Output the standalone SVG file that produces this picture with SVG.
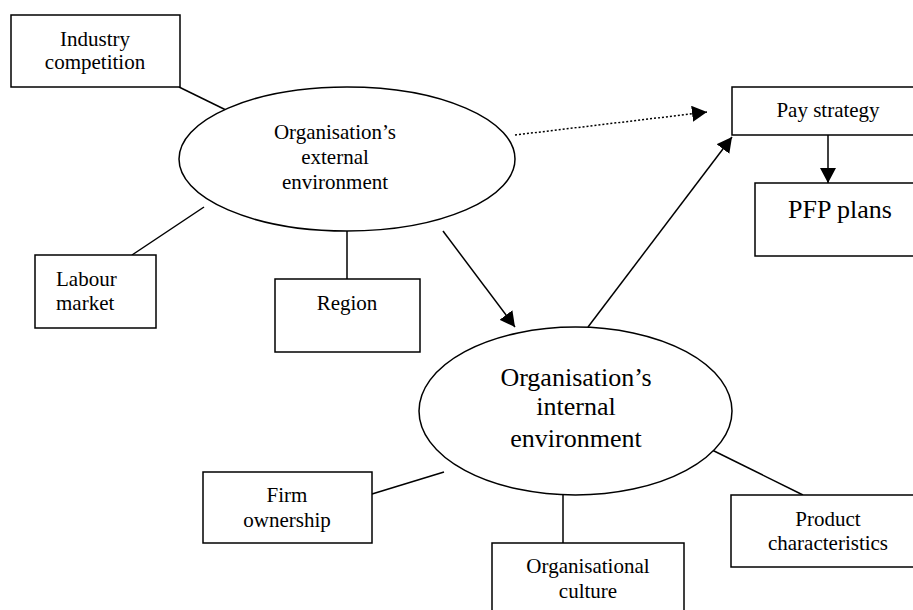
<svg xmlns="http://www.w3.org/2000/svg" width="913" height="610" viewBox="0 0 913 610">
<style>
  .box { fill: #fff; stroke: #000; stroke-width: 1.5; }
  .ell { fill: #fff; stroke: #000; stroke-width: 1.5; }
  .ln { stroke: #000; stroke-width: 1.5; fill: none; }
  .dot { stroke: #000; stroke-width: 1.5; fill: none; stroke-dasharray: 2 2; }
  text { font-family: "Liberation Serif", "Times New Roman", serif; fill: #000; }
  .t21 { font-size: 21px; }
  .t26 { font-size: 26px; }
  .c { text-anchor: middle; }
</style>
<defs>
  <marker id="arr" markerUnits="userSpaceOnUse" viewBox="0 0 15 16" markerWidth="15" markerHeight="16" refX="15" refY="8" orient="auto">
    <path d="M0,0 L15,8 L0,16 Z" fill="#000"/>
  </marker>
</defs>
<rect width="913" height="610" fill="#fff"/>

<g id="connectors">
  <line class="ln" x1="179" y1="87" x2="228" y2="111"/>
  <line class="ln" x1="204" y1="207" x2="132" y2="255"/>
  <line class="ln" x1="347" y1="231" x2="347" y2="279"/>
  <line class="dot" x1="515" y1="135" x2="707" y2="112" marker-end="url(#arr)"/>
  <line class="ln" x1="443" y1="231" x2="515" y2="327" marker-end="url(#arr)"/>
  <line class="ln" x1="588" y1="327" x2="732" y2="137" marker-end="url(#arr)"/>
  <line class="ln" x1="828" y1="135" x2="828" y2="183" marker-end="url(#arr)"/>
  <line class="ln" x1="444" y1="472" x2="372" y2="494"/>
  <line class="ln" x1="563" y1="495" x2="563" y2="543"/>
  <line class="ln" x1="708" y1="448" x2="803" y2="495"/>
</g>

<g id="industry">
  <rect class="box" x="11" y="15" width="169" height="72"/>
  <text class="t21 c" x="95" y="46">Industry</text>
  <text class="t21 c" x="95" y="69">competition</text>
</g>

<g id="external">
  <ellipse class="ell" cx="347" cy="159" rx="168" ry="72"/>
  <text class="t21 c" x="335" y="139">Organisation’s</text>
  <text class="t21 c" x="335" y="164">external</text>
  <text class="t21 c" x="335" y="189">environment</text>
</g>

<g id="labour">
  <rect class="box" x="35" y="255" width="121" height="73"/>
  <text class="t21" x="56" y="286">Labour</text>
  <text class="t21" x="56" y="310">market</text>
</g>

<g id="region">
  <rect class="box" x="275" y="279" width="145" height="73"/>
  <text class="t21 c" x="347" y="310">Region</text>
</g>

<g id="pay">
  <rect class="box" x="732" y="87" width="190" height="48"/>
  <text class="t21 c" x="828" y="117">Pay strategy</text>
</g>

<g id="pfp">
  <rect class="box" x="755" y="183" width="170" height="73"/>
  <text class="t26 c" x="840" y="218">PFP plans</text>
</g>

<g id="internal">
  <ellipse class="ell" cx="575.5" cy="411" rx="156.5" ry="84"/>
  <text class="t26 c" x="576" y="386">Organisation’s</text>
  <text class="t26 c" x="576" y="415">internal</text>
  <text class="t26 c" x="576" y="447">environment</text>
</g>

<g id="firm">
  <rect class="box" x="203" y="472" width="169" height="71"/>
  <text class="t21 c" x="287" y="502">Firm</text>
  <text class="t21 c" x="287" y="527">ownership</text>
</g>

<g id="culture">
  <rect class="box" x="492" y="543" width="192" height="80"/>
  <text class="t21 c" x="588" y="573">Organisational</text>
  <text class="t21 c" x="588" y="598">culture</text>
</g>

<g id="product">
  <rect class="box" x="731" y="495" width="190" height="72"/>
  <text class="t21 c" x="828" y="526">Product</text>
  <text class="t21 c" x="828" y="550">characteristics</text>
</g>
</svg>
